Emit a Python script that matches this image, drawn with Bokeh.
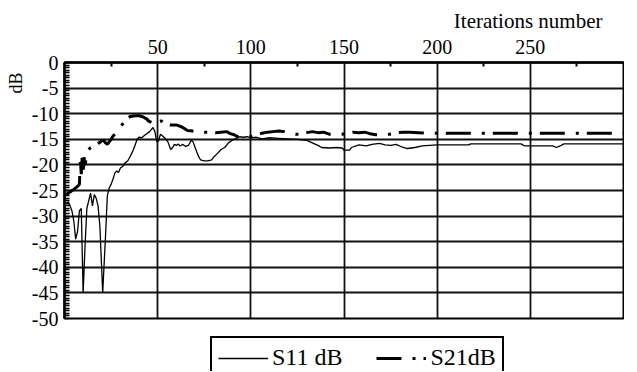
from bokeh.plotting import figure
from bokeh.layouts import column
from bokeh.models import (Range1d, FixedTicker, SingleIntervalTicker, Legend, LegendItem, Title,
                          PrintfTickFormatter)
from bokeh.core.properties import value
from bokeh.embed import file_html
from bokeh.resources import INLINE

# ---- data ----
iterations_s11 = [1, 2, 3, 4, 5, 6, 7, 8, 9, 10, 11, 12, 13, 14, 15, 16, 17, 18, 19, 20.5,
                  22, 23, 24, 25, 26, 27, 28, 29, 30, 31.5, 32.5, 34, 35, 36, 37, 38, 39, 40,
                  41.5, 43, 44.5, 45.7, 47.5, 48.5, 49.5, 50.5, 51.5, 52.5, 54, 55.5, 57, 58,
                  59, 60, 61, 62, 63.5, 65, 66.5, 68, 69, 70, 71, 72, 73, 75, 77, 79, 80, 82,
                  84, 86, 88, 90, 92, 94, 96, 98, 100, 103, 106, 110, 115, 120, 125, 130, 133,
                  136, 138, 142, 146, 149, 150, 153, 154, 158, 162, 165, 169, 172, 175, 178,
                  181, 184, 188, 192, 196, 200, 210, 217, 218, 230, 245, 247, 255, 262, 264,
                  266, 268, 280, 300]
s11_db = [-27.5, -27.2, -28, -29, -31, -34.5, -33, -29, -28.5, -45, -36, -28.5, -27, -25.5,
          -28, -25.8, -26.5, -28, -32, -45, -34, -26, -24.5, -23.8, -22.8, -21.6, -21.2,
          -21.5, -20.6, -20.2, -19.6, -19.2, -18.5, -17.8, -17, -16, -15, -14.6, -14.7,
          -14.2, -13.8, -13.5, -12.7, -13.5, -15.5, -15.3, -14, -14.3, -14.8, -15.5, -17,
          -16.6, -16, -16.2, -15.9, -16.3, -16, -16.4, -16.2, -15.2, -15.5, -16.5, -17.5,
          -18.4, -19, -19.2, -19.2, -19, -18.5, -17.8, -17, -16.6, -15.7, -15.2, -14.8,
          -14.5, -14.6, -14.5, -14.7, -14.6, -14.9, -14.7, -14.8, -14.9, -15, -15.2, -15.7,
          -16.2, -16.6, -16.7, -16.6, -16.7, -17.1, -17.1, -16.6, -16.1, -16.3, -16, -15.8,
          -16.1, -16.2, -16, -16.5, -16.8, -16.6, -16.3, -16.2, -16.1, -16.1, -16.1, -15.9,
          -15.9, -15.9, -16.3, -16.3, -16.3, -16.6, -16.3, -15.9, -15.9, -15.9]

iterations_s21 = [1, 2, 3, 4, 5, 6, 7, 8, 8.5, 9, 9.5, 10, 10.5, 11, 12, 13, 14, 15, 16, 17,
                  18, 19, 20, 21, 22, 23, 24, 25, 26, 27, 28, 29, 30, 31, 32, 33, 34, 35, 36,
                  38, 40, 42, 44, 45, 46, 47, 48, 49, 50, 51, 52, 53, 54, 55, 57, 60, 63, 66,
                  69, 72, 75, 78, 81, 84, 87, 89, 91, 93, 95, 97, 100, 103, 106, 109, 112,
                  115, 118, 121, 124, 127, 130, 133, 136, 139, 142, 146, 149, 152, 155, 158,
                  161, 164, 167, 170, 173, 176, 179, 182, 185, 190, 195, 200, 300]
s21_db = [-25.8, -25.5, -25.3, -25, -24.8, -24.5, -24.2, -23.8, -19, -21.8, -18.2, -21.5,
          -18.5, -20, -18, -17, -16.6, -16.4, -16.2, -16, -15.8, -15.6, -15.3, -15.2, -15.7,
          -16, -15.5, -15, -14.4, -14, -13.6, -13.2, -12.6, -12.1, -11.6, -11.1, -10.8,
          -10.6, -10.5, -10.4, -10.4, -10.6, -11, -11.4, -11.6, -11.8, -12.2, -12.2, -11.8,
          -11.5, -11.4, -11.7, -11.9, -12, -12.2, -12.2, -12.6, -13.3, -13.4, -13.3, -13.6,
          -13.6, -13.7, -13.6, -13.5, -13.9, -14.1, -14.5, -14.3, -14.6, -14.5, -14.2,
          -13.8, -13.6, -13.5, -13.4, -13.5, -13.8, -14, -14, -13.7, -13.5, -13.7, -13.6,
          -14, -14.1, -14, -13.8, -13.6, -13.7, -13.6, -13.9, -14.1, -14.2, -14.1, -13.9,
          -13.7, -13.6, -13.6, -13.7, -13.8, -13.8, -13.8]

x_ticks = [50, 100, 150, 200, 250]
x_minor_ticks = [25, 75, 125, 175, 225, 275]
series_labels = ["S11 dB", "S21dB"]

FONT = "Liberation Serif"
S11_STYLE = dict(line_color="black", line_width=1.3)
S21_STYLE = dict(line_color="black", line_width=3, line_dash="25 11 3 8")

p = figure(frame_width=559, frame_height=256, x_range=Range1d(0, 300), y_range=Range1d(-50, 0),
           x_axis_location="above", output_backend="svg", toolbar_location=None,
           min_border_left=61, min_border_right=1, min_border_top=62, min_border_bottom=12,
           title="Iterations number")
p.title.align = "right"
p.title.text_font = FONT
p.title.text_font_size = "21px"
p.title.text_font_style = "normal"
p.title.text_color = "black"
p.title.offset = 21
p.title.standoff = 8

p.outline_line_color = "black"
p.outline_line_width = 2
p.background_fill_color = "white"
p.border_fill_color = "white"

xa = p.xaxis[0]
xa.ticker = FixedTicker(ticks=x_ticks, minor_ticks=x_minor_ticks)
ya = p.yaxis[0]
ya.ticker = SingleIntervalTicker(interval=5, num_minor_ticks=10)
ya.formatter = PrintfTickFormatter(format="%d")
for ax in (xa, ya):
    ax.axis_line_color = "black"
    ax.axis_line_width = 2.5
    ax.major_tick_in = 0
    ax.major_tick_out = 0
    ax.minor_tick_in = 4
    ax.minor_tick_out = 0
    ax.minor_tick_line_color = "black"
    ax.minor_tick_line_width = 2
    ax.major_label_text_font = FONT
    ax.major_label_text_font_size = "20px"
    ax.major_label_text_color = "black"
xa.major_label_standoff = 9
ya.major_label_standoff = 6
ya.minor_tick_in = 5
ya.minor_tick_line_width = 1.5

p.xgrid.grid_line_color = "#111111"
p.xgrid.grid_line_width = 1.8
p.ygrid.grid_line_color = "#111111"
p.ygrid.grid_line_width = 1.8

p.add_layout(Title(text="dB", align="right", offset=10, text_font=FONT, text_color="black",
                   text_font_size="18px", text_font_style="normal", standoff=6), "left")

p.line(iterations_s11, s11_db, **S11_STYLE)
p.line(iterations_s21, s21_db, **S21_STYLE)

# ---- legend strip below the chart: same series, ranges chosen so nothing of them is in view ----
lg = figure(width=621, height=41, x_range=Range1d(-20, -10), y_range=Range1d(10, 20),
            x_axis_type=None, y_axis_type=None, output_backend="svg", toolbar_location=None,
            min_border=0, outline_line_color=None)
lg.grid.visible = False
k1 = lg.line(iterations_s11, s11_db, **S11_STYLE)
k2 = lg.line(iterations_s21, s21_db, **S21_STYLE)
legend = Legend(items=[LegendItem(label=value(series_labels[0]), renderers=[k1]),
                       LegendItem(label=value(series_labels[1]), renderers=[k2])],
                location=(146, -8), orientation="horizontal", padding=6, margin=0,
                spacing=34, glyph_width=50, glyph_height=20, label_height=20,
                label_standoff=4, label_text_font=FONT, label_text_font_size="24px",
                label_text_color="black",
                border_line_color="black", border_line_width=2.5, border_line_alpha=1,
                background_fill_color="white", background_fill_alpha=1)
lg.add_layout(legend)

layout = column(p, lg, spacing=0)
open("out.html", "w").write(file_html(layout, INLINE))
